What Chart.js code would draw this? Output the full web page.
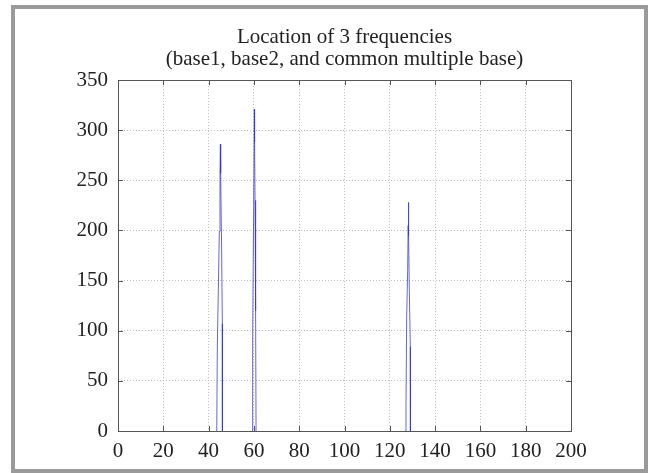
<!DOCTYPE html>
<html>
<head>
<meta charset="utf-8">
<script src="https://cdn.jsdelivr.net/npm/chart.js@4/dist/chart.umd.min.js"></script>
<style>
  html, body { margin: 0; padding: 0; background: #fff; }
  canvas { display: block; }
</style>
</head>
<body>
<canvas id="grafico" width="654" height="473"></canvas>
<script>
// Datos (frecuencia vs magnitud). null = corte de línea entre picos
const frecuencias = [
  43.6, 43.86, 44.3, 44.74, 45.03, 45.2, 45.33, 45.77, 46.06, 46.1,
  50,
  59.2, 59.45, 59.9, 60.19, 60.3, 60.5, 60.75, 60.95,
  100,
  126.9, 127.15, 127.45, 127.89, 128.1, 128.18, 128.4, 128.62, 129.06, 129.1
];
const magnitudes = [
  0, 85, 141, 199, 258, 286, 257, 178, 107, 0,
  null,
  0, 95, 224, 321, 288, 230, 120, 0,
  null,
  0, 24, 114, 160, 205, 228, 195, 141, 84, 0
];
const ticksX = [0, 20, 40, 60, 80, 100, 120, 140, 160, 180, 200];
const ticksY = [0, 50, 100, 150, 200, 250, 300, 350];
const titulo = ['Location of 3 frequencies', '(base1, base2, and common multiple base)'];

const fuente = { family: "'Liberation Serif', 'Times New Roman', serif", size: 21 };

// Marco gris exterior + caja de ejes + ticks hacia adentro (estilo MATLAB)
const pluginMarco = {
  id: 'marco',
  beforeDraw(chart) {
    const ctx = chart.ctx;
    ctx.save();
    ctx.fillStyle = '#fff';
    ctx.fillRect(0, 0, chart.width, chart.height);
    ctx.strokeStyle = '#9a9a9a';
    ctx.lineWidth = 4;
    ctx.strokeRect(13, 7, 633, 464);
    ctx.restore();
  },
  afterDraw(chart) {
    const ctx = chart.ctx;
    const a = chart.chartArea;
    const sx = chart.scales.x, sy = chart.scales.y;
    ctx.save();
    ctx.strokeStyle = '#555';
    ctx.lineWidth = 1;
    ctx.strokeRect(Math.round(a.left) + 0.5, Math.round(a.top) + 0.5,
                   Math.round(a.right - a.left), Math.round(a.bottom - a.top));
    ctx.beginPath();
    ticksX.forEach(v => {
      const x = Math.round(sx.getPixelForValue(v)) + 0.5;
      ctx.moveTo(x, a.bottom); ctx.lineTo(x, a.bottom - 5);
      ctx.moveTo(x, a.top); ctx.lineTo(x, a.top + 5);
    });
    ticksY.forEach(v => {
      const y = Math.round(sy.getPixelForValue(v)) + 0.5;
      ctx.moveTo(a.left, y); ctx.lineTo(a.left + 5, y);
      ctx.moveTo(a.right, y); ctx.lineTo(a.right - 5, y);
    });
    ctx.stroke();
    ctx.restore();
  }
};

const puntos = frecuencias.map((f, i) => ({ x: f, y: magnitudes[i] }));

new Chart(document.getElementById('grafico'), {
  type: 'scatter',
  data: {
    datasets: [{
      data: puntos,
      showLine: true,
      spanGaps: false,
      borderColor: 'rgba(50, 50, 225, 0.75)',
      borderWidth: 1,
      pointRadius: 0,
      tension: 0
    }]
  },
  options: {
    responsive: false,
    devicePixelRatio: 1,
    animation: false,
    layout: { padding: { left: 16, right: 83, top: 11, bottom: 12 } },
    plugins: {
      legend: { display: false },
      tooltip: { enabled: false },
      title: {
        display: true,
        fullSize: false, // centrado sobre el área de ejes, no sobre todo el lienzo
        text: titulo,
        color: '#222',
        font: { ...fuente, weight: 'normal', lineHeight: 1.05 },
        padding: { top: 15, bottom: 10 }
      }
    },
    scales: {
      x: {
        type: 'linear',
        min: 0, max: 200,
        afterFit: s => { s.height = 30; },
        afterBuildTicks: s => { s.ticks = ticksX.map(v => ({ value: v })); },
        ticks: { color: '#222', font: fuente, padding: 8, maxRotation: 0 },
        grid: { color: '#bdbdbd', drawTicks: false },
        border: { display: false, dash: [1, 2] }
      },
      y: {
        min: 0, max: 350,
        afterFit: s => { s.width = 102; },
        afterBuildTicks: s => { s.ticks = ticksY.map(v => ({ value: v })); },
        ticks: { color: '#222', font: fuente, padding: 10 },
        grid: { color: '#bdbdbd', drawTicks: false },
        border: { display: false, dash: [1, 2] }
      }
    }
  },
  plugins: [pluginMarco]
});
</script>
</body>
</html>
